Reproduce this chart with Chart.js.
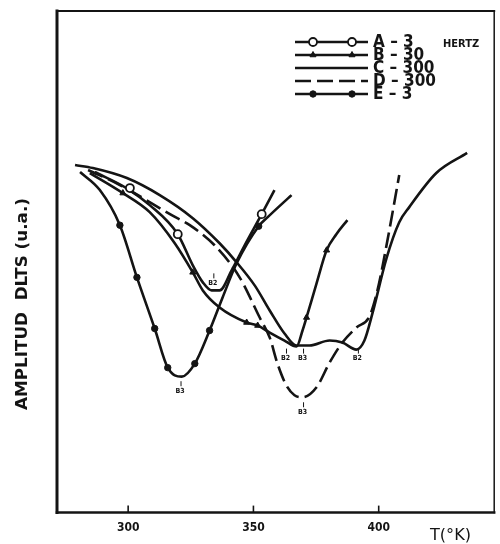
<!DOCTYPE html>
<html>
<head>
<meta charset="utf-8">
<script src="https://cdn.jsdelivr.net/npm/chart.js@4.4.1/dist/chart.umd.min.js"></script>
<style>
  html, body { margin: 0; padding: 0; background: #fff; }
</style>
</head>
<body>
<canvas id="myChart" width="500" height="544"></canvas>
<script>
// Eje X (temperatura en K)
const ejeX_ticks = [300, 350, 400];

// Curva A - 3 Hz (circulos abiertos)
const A_T = [286.7, 299.9, 308.6, 319.8, 325.8, 329.8, 333.3, 336.5, 341.3, 346.5, 353.3, 358.4];
const A_Y = [67.9, 64.5, 61.3, 55.5, 49.3, 45.9, 44.3, 44.3, 48.3, 53.3, 59.5, 64.3];
const A_marcaT = [300.7, 319.8, 353.3];
const A_marcaY = [64.7, 55.5, 59.5];

// Curva B - 30 Hz (triangulos)
const B_T = [284.7, 297.9, 308.6, 318.6, 325.8, 329.8, 336.5, 347.3, 351.7, 356.5, 362.4, 367.2, 369.6, 371.2, 375.2, 379.2, 383.1, 387.5];
const B_Y = [67.7, 63.7, 59.9, 53.7, 47.9, 44.3, 40.9, 37.9, 37.3, 35.9, 34.3, 33.1, 36.3, 38.9, 45.7, 52.3, 55.5, 58.3];
const B_marcaT = [297.9, 325.8, 347.3, 351.7, 371.2, 379.2];
const B_marcaY = [63.7, 47.9, 37.9, 37.3, 38.9, 52.3];

// Curva C - 300 Hz (continua)
const C_T = [278.8, 285.9, 299.5, 312.6, 325.8, 336.5, 343.3, 350.5, 356.5, 362.4, 367.2, 372.4, 380.4, 385.5, 391.1, 394.3, 397.5, 403.1, 408.2, 412.2, 423.0, 435.3];
const C_Y = [69.3, 68.7, 66.7, 63.3, 58.7, 53.7, 49.9, 45.3, 40.3, 35.7, 33.3, 33.3, 34.3, 33.9, 32.5, 34.3, 39.7, 50.7, 57.9, 60.9, 67.7, 71.7];

// Curva D - 300 Hz (discontinua)
const D_T = [284.0, 296.7, 317.4, 324.6, 334.5, 344.5, 352.5, 356.5, 359.6, 363.2, 366.4, 369.6, 375.2, 380.4, 385.5, 391.1, 396.3, 399.5, 403.5, 408.2];
const D_Y = [68.3, 65.3, 59.3, 57.3, 53.3, 46.9, 38.9, 34.9, 29.7, 25.3, 23.4, 23.0, 25.0, 29.9, 33.9, 36.9, 39.1, 44.3, 54.3, 67.3];

// Curva E - 3 Hz (puntos llenos)
const E_T = [280.8, 288.7, 296.7, 303.5, 310.6, 315.8, 321.4, 326.6, 332.5, 337.7, 343.3, 352.1, 355.7, 365.2];
const E_Y = [67.9, 64.3, 57.3, 46.9, 36.7, 28.9, 27.1, 29.7, 36.3, 42.9, 49.7, 57.1, 58.9, 63.3];
const E_marcaT = [296.7, 303.5, 310.6, 315.8, 326.6, 332.5, 352.1];
const E_marcaY = [57.3, 46.9, 36.7, 28.9, 29.7, 36.3, 57.1];

// Etiquetas de los picos
const picosT = [320.7, 333.8, 362.8, 369.6, 369.6, 391.5];
const picosY = [24.2, 45.7, 30.7, 30.7, 20.0, 30.7];
const picosTexto = ["B3", "B2", "B2", "B3", "B3", "B2"];

// Leyenda
const leyendaTextos = ["A – 3", "B – 30", "C – 300", "D – 300", "E – 3"];
const leyendaUnidad = "HERTZ";

const tituloX = "T(°K)";
const tituloY = "AMPLITUD  DLTS (u.a.)";

const negro = "#141414";
const fuente = "'DejaVu Sans Condensed', 'DejaVu Sans', sans-serif";

const toXY = (T, Y) => T.map((x, i) => ({ x, y: Y[i] }));

function linea(ctx, x1, y1, x2, y2, w) {
  ctx.lineWidth = w;
  ctx.beginPath();
  ctx.moveTo(x1, y1);
  ctx.lineTo(x2, y2);
  ctx.stroke();
}

// texto ajustado a un ancho
function textoAncho(ctx, txt, x, y, ancho) {
  const m = ctx.measureText(txt).width;
  ctx.save();
  ctx.translate(x, y);
  ctx.scale(ancho / m, 1);
  ctx.fillText(txt, 0, 0);
  ctx.restore();
}

// marco, ticks, titulos, leyenda
const marco = {
  id: "marco",
  afterDraw(chart) {
    const { ctx, chartArea: a, scales } = chart;
    ctx.save();
    ctx.strokeStyle = negro;
    ctx.fillStyle = negro;
    ctx.lineCap = "square";
    linea(ctx, a.left, a.top, a.left, a.bottom, 3);
    linea(ctx, a.left, a.bottom, a.right, a.bottom, 2.5);
    linea(ctx, a.left, a.top, a.right, a.top, 2);
    linea(ctx, a.right, a.top, a.right, a.bottom, 1.5);
    ctx.lineCap = "butt";
    ejeX_ticks.forEach((v) => {
      const px = scales.x.getPixelForValue(v);
      linea(ctx, px, a.bottom, px, a.bottom - 7, 1.6);
    });

    // titulo X
    ctx.font = "15px " + fuente;
    ctx.textAlign = "left";
    ctx.textBaseline = "middle";
    textoAncho(ctx, tituloX, 430, 536, 41);

    // titulo Y
    ctx.save();
    ctx.translate(23, 304);
    ctx.rotate(-Math.PI / 2);
    ctx.font = "bold 15px " + fuente;
    ctx.textAlign = "left";
    textoAncho(ctx, tituloY, -106, 0, 212);
    ctx.restore();

    // etiquetas de picos
    ctx.font = "bold 7px " + fuente;
    ctx.textAlign = "center";
    picosT.forEach((t, i) => {
      const px = scales.x.getPixelForValue(t);
      const py = scales.y.getPixelForValue(picosY[i]);
      linea(ctx, px + 1, py - 10, px + 1, py - 5, 1);
      ctx.fillText(picosTexto[i], px, py);
    });

    // leyenda
    const sets = chart.data.datasets.filter((d) => !d.marca);
    const x1 = 295, x2 = 368;
    sets.forEach((d, i) => {
      const y = 42 + i * 13;
      ctx.strokeStyle = negro;
      ctx.setLineDash(d.borderDash || []);
      linea(ctx, x1, y, x2, y, 2.6);
      ctx.setLineDash([]);
      const m = chart.data.datasets.find((s) => s.marca === d.label);
      if (m) {
        [313, 352].forEach((mx) => {
          ctx.fillStyle = m.backgroundColor;
          ctx.strokeStyle = negro;
          ctx.lineWidth = m.borderWidth || 1;
          Chart.helpers.drawPoint(ctx, {
            pointStyle: m.pointStyle, radius: m.pointRadius, borderWidth: m.borderWidth || 1,
          }, mx, y);
        });
      }
      ctx.fillStyle = negro;
      ctx.font = "bold 17px " + fuente;
      ctx.textAlign = "left";
      ctx.textBaseline = "middle";
      ctx.fillText(leyendaTextos[i], 373, y + 1);
    });
    ctx.font = "bold 11px " + fuente;
    ctx.fillText(leyendaUnidad, 443, 44);
    ctx.restore();
  },
};

let linea_comun = {
  borderColor: negro,
  borderWidth: 2.6,
  pointRadius: 0,
  fill: false,
  cubicInterpolationMode: "monotone",
  order: 2,
};

let marca_comun = {
  showLine: false,
  order: 1,
  borderColor: negro,
  backgroundColor: negro,
  borderWidth: 1,
};

const ctx = document.getElementById("myChart").getContext("2d");

new Chart(ctx, {
  type: "line",
  data: {
    datasets: [
      { ...linea_comun, label: "A", data: toXY(A_T, A_Y) },
      { ...linea_comun, label: "B", data: toXY(B_T, B_Y) },
      { ...linea_comun, label: "C", data: toXY(C_T, C_Y) },
      { ...linea_comun, label: "D", data: toXY(D_T, D_Y), borderDash: [16, 6] },
      { ...linea_comun, label: "E", data: toXY(E_T, E_Y) },
      {
        ...marca_comun, marca: "A", label: "A marcas",
        data: toXY(A_marcaT, A_marcaY),
        pointStyle: "circle", pointRadius: 4, backgroundColor: "#fff", borderWidth: 1.8,
      },
      {
        ...marca_comun, marca: "B", label: "B marcas",
        data: toXY(B_marcaT, B_marcaY),
        pointStyle: "triangle", pointRadius: 3.5,
      },
      {
        ...marca_comun, marca: "E", label: "E marcas",
        data: toXY(E_marcaT, E_marcaY),
        pointStyle: "circle", pointRadius: 3.2,
      },
    ],
  },
  options: {
    responsive: false,
    animation: false,
    layout: { padding: { left: 57, top: 11, right: 5, bottom: 1 } },
    plugins: {
      legend: { display: false },
      tooltip: { enabled: false },
    },
    scales: {
      x: {
        type: "linear",
        min: 271.6,
        max: 446.1,
        afterBuildTicks: (axis) => {
          axis.ticks = ejeX_ticks.map((v) => ({ value: v }));
        },
        ticks: {
          color: negro,
          font: { family: fuente, size: 12, weight: "bold" },
          padding: 8,
          maxRotation: 0,
          autoSkip: false,
        },
        grid: { display: false, drawTicks: false },
        border: { display: false },
      },
      y: { min: 0, max: 100, display: false },
    },
  },
  plugins: [marco],
});
</script>
</body>
</html>
